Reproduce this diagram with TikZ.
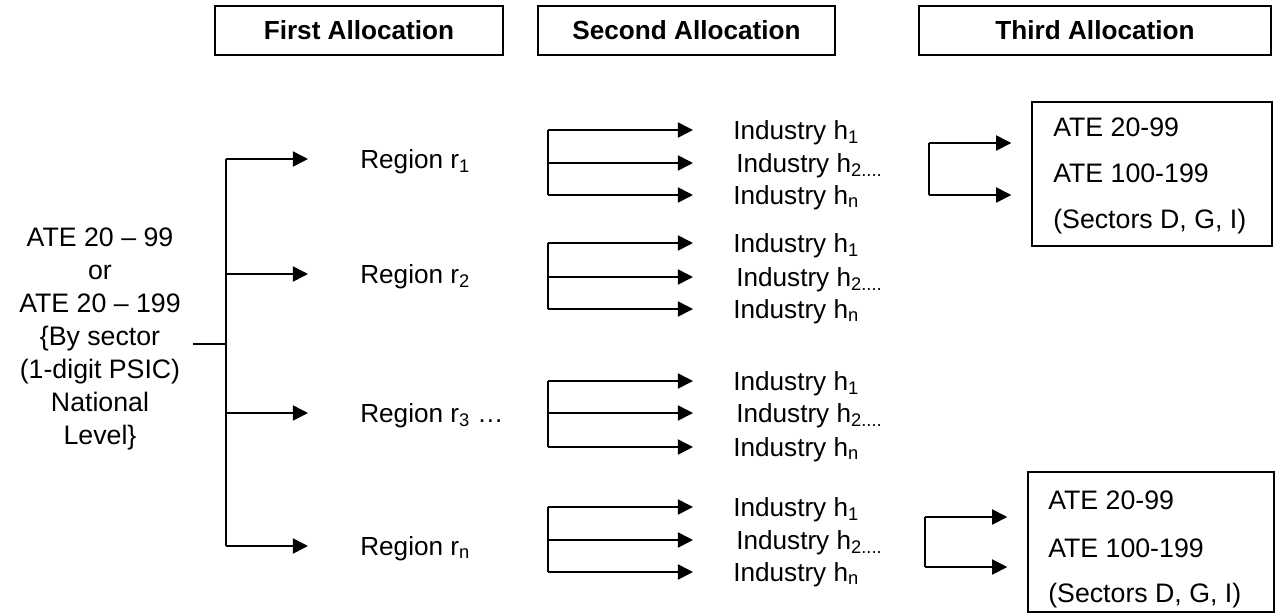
\documentclass[tikz,border=0pt]{standalone}
\usepackage{fontspec}
\setmainfont{Liberation Sans}
\usetikzlibrary{arrows.meta,positioning}

\begin{document}
\begin{tikzpicture}[x=0.025cm, y=-0.025cm,
    txt/.style={font=\fontsize{18.6}{22}\selectfont, inner sep=0pt},
    hdr/.style={draw, line width=1pt, minimum height=1.225cm, font=\fontsize{18.6}{22}\selectfont\bfseries},
    outbox/.style={draw, line width=1pt},
    arr/.style={line width=1.2pt, -{Triangle[length=0.38cm, width=0.38cm]}},
    bar/.style={line width=1.4pt}]
        \useasboundingbox (0,0) rectangle (1276,614);

        % Column headers
        \foreach \n/\cx/\w/\lab in {1/359/7.2/First Allocation,
                2/686.5/7.425/Second Allocation, 3/1095/8.8/Third Allocation} {
            \node[hdr, minimum width=\w cm] (hb\n) at (\cx,30.5) {\lab};
        }

        % National level
        \node[txt, align=center, font=\fontsize{19}{23.4}\selectfont] (src) at (100,339)
            {ATE 20 – 99\\or\\ATE 20 – 199\\\{By sector\\(1-digit PSIC)\\National\\Level\}};

        % First allocation: regions
        \coordinate (barTop) at (226,159);
        \coordinate (barBot) at (226,546);
        \coordinate (stub) at (193,344);
        \draw[bar] (barTop) -- (barBot);
        \draw[bar] (stub) -- (stub -| barTop);
        \foreach \r/\y/\lab in {1/159/{r\textsubscript{1}}, 2/274/{r\textsubscript{2}},
                3/413/{r\textsubscript{3} …}, 4/546/{r\textsubscript{n}}} {
            \coordinate (rb\r) at (226,\y);
            \node[txt, anchor=base west] (reg\r) at (360,\y+9) {Region \lab};
            \draw[arr, shorten >=1.3cm] (rb\r) -- (rb\r -| reg\r.west);
        }

        % Second allocation: industries
        \foreach \g/\ya/\yb/\yc in {1/130/163/195, 2/243/277/309, 3/381/413/447, 4/507/540/572} {
            \coordinate (ga\g) at (548,\ya);
            \coordinate (gb\g) at (548,\yb);
            \coordinate (gc\g) at (548,\yc);
            \node[txt, anchor=base west] (ia\g) at (733,\ya+9) {Industry h\textsubscript{1}};
            \node[txt, anchor=base west] (ib\g) at (736,\yb+9) {Industry h\textsubscript{2....}};
            \node[txt, anchor=base west] (ic\g) at (733,\yc+9) {Industry h\textsubscript{n}};
            \draw[bar] (ga\g) -- (gc\g);
            \draw[arr, shorten >=1cm] (ga\g) -- (ga\g -| ia\g.west);
            \draw[arr, shorten >=1.075cm] (gb\g) -- (gb\g -| ib\g.west);
            \draw[arr, shorten >=1cm] (gc\g) -- (gc\g -| ic\g.west);
        }

        % Third allocation: size classes
        \node[outbox, minimum width=6cm, minimum height=3.6cm] (out1) at (1152,174) {};
        \node[txt, font=\fontsize{19}{22}\selectfont, anchor=base west] (o1a) at (1053,136) {ATE 20-99};
        \node[txt, font=\fontsize{19}{22}\selectfont, anchor=base west] (o1b) at (1053,182) {ATE 100-199};
        \node[txt, font=\fontsize{19}{22}\selectfont, anchor=base west] (o1c) at (1053,228) {(Sectors D, G, I)};
        \coordinate (ta) at (929,143);
        \coordinate (tb) at (929,195);
        \draw[bar] (ta) -- (tb);
        \draw[arr, shorten >=0.5cm] (ta) -- (ta -| out1.west);
        \draw[arr, shorten >=0.5cm] (tb) -- (tb -| out1.west);

        \node[outbox, minimum width=6.15cm, minimum height=3.5cm] (out2) at (1151,542) {};
        \node[txt, font=\fontsize{19}{22}\selectfont, anchor=base west] (o2a) at (1048,509) {ATE 20-99};
        \node[txt, font=\fontsize{19}{22}\selectfont, anchor=base west] (o2b) at (1048,557) {ATE 100-199};
        \node[txt, font=\fontsize{19}{22}\selectfont, anchor=base west] (o2c) at (1048,602) {(Sectors D, G, I)};
        \coordinate (tc) at (925,517);
        \coordinate (td) at (925,567);
        \draw[bar] (tc) -- (td);
        \draw[arr, shorten >=0.5cm] (tc) -- (tc -| out2.west);
        \draw[arr, shorten >=0.5cm] (td) -- (td -| out2.west);
    \end{tikzpicture}
\end{document}
